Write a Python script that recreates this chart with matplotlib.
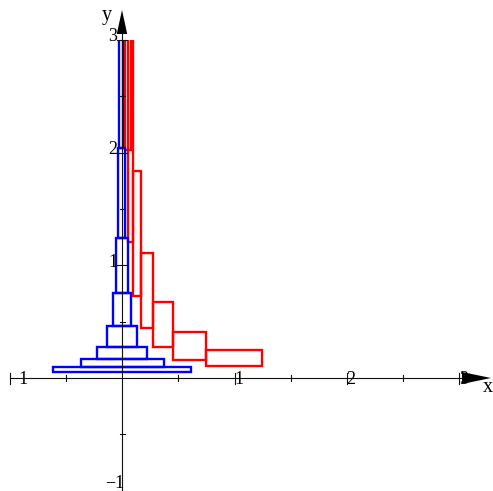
import matplotlib
matplotlib.use("Agg")
import matplotlib.pyplot as plt
from matplotlib.patches import Rectangle, Polygon

# ---- data ----
blue_left = [-0.61, -0.367, -0.225, -0.136, -0.077, -0.055, -0.038, -0.025]
blue_right = [0.613, 0.373, 0.225, 0.136, 0.08, 0.056, 0.027, 0.005]
blue_bottom = [0.056, 0.10, 0.165, 0.275, 0.46, 0.757, 1.24, 2.04]
blue_top = [0.10, 0.165, 0.275, 0.46, 0.757, 1.24, 2.04, 3.36]

red_left = [0.75, 0.455, 0.278, 0.167, 0.097, 0.056, 0.025]
red_right = [1.244, 0.75, 0.455, 0.278, 0.167, 0.097, 0.08]
red_bottom = [0.106, 0.162, 0.272, 0.446, 0.728, 1.21, 2.02]
red_top = [0.248, 0.41, 0.677, 1.11, 1.84, 3.05, 5.0]

x_ticks = [-1, -0.5, 0.5, 1, 1.5, 2, 2.5, 3]
y_ticks = [-1, -0.5, 0.5, 1, 1.5, 2, 2.5, 3]
x_labels = {-1: "\u22121", 1: "1", 2: "2", 3: "3"}
y_labels = {-1: "\u22121", 1: "1", 2: "2", 3: "3"}

view_lo, view_hi = -1, 3

W, H = 493, 491
fig = plt.figure(figsize=(W / 100, H / 100), dpi=100)
ax = fig.add_axes([0, 0, 1, 1])
# pixel mapping: x=0 at px 122, 112.5 px/unit; y=0 at px 378 (from top), 112.7 px/unit
sx, sy = 112.5, 112.7
ax.set_xlim(-122 / sx, (W - 122) / sx)
ax.set_ylim(-(H - 378) / sy, 378 / sy)
ax.set_axis_off()

def px2dx(p):
    return p / sx

def px2dy(p):
    return p / sy

font = dict(family=["Liberation Serif", "DejaVu Serif"], size=13)
axcol = "#111111"

# clip region (view)
clip = Rectangle((-2, -2), 6, view_hi + 2, transform=ax.transData, visible=False)
ax.add_patch(clip)

for l, r, b, t in zip(red_left, red_right, red_bottom, red_top):
    p = Rectangle((l, b), r - l, t - b, fill=False, edgecolor="#ff0000", linewidth=1.7)
    ax.add_patch(p)
    p.set_clip_path(clip)

for l, r, b, t in zip(blue_left, blue_right, blue_bottom, blue_top):
    p = Rectangle((l, b), r - l, t - b, fill=False, edgecolor="#0000ff", linewidth=1.7)
    ax.add_patch(p)
    p.set_clip_path(clip)

# axes lines with arrows
x_tip = (491 - 122) / sx
x_head = px2dx(29)
ax.plot([view_lo, x_tip - x_head], [0, 0], color=axcol, lw=0.8)
ax.add_patch(Polygon([[x_tip, 0], [x_tip - x_head, px2dy(6)], [x_tip - x_head, -px2dy(6)]],
                     closed=True, color="black", lw=0, zorder=1))
y_tip = (378 - 10) / sy
y_head = px2dy(24)
ax.plot([0, 0], [view_lo, y_tip - y_head], color=axcol, lw=0.8)
ax.add_patch(Polygon([[0, y_tip], [px2dx(5.2), y_tip - y_head], [-px2dx(5.2), y_tip - y_head]],
                     closed=True, color="black", lw=0, zorder=1))

# ticks
for t in x_ticks:
    h = 5.5 if float(t).is_integer() else 3.0
    ax.plot([t, t], [-px2dy(h), px2dy(h)], color=axcol, lw=0.8)
for t in y_ticks:
    w = 5.0 if float(t).is_integer() else 2.5
    ax.plot([-px2dx(w), px2dx(w)], [t, t], color=axcol, lw=0.8)

# tick labels
for t, s in x_labels.items():
    ax.annotate(s, (t, 0), xytext=(-0.5 * 0.72, -2 * 0.72), textcoords="offset points",
                ha="left", va="center", color="black", zorder=5, **font)
for t, s in y_labels.items():
    if t == min(y_labels):
        ax.annotate(s, (0, t), xytext=(2.5 * 0.72, 7 * 0.72), textcoords="offset points",
                    ha="right", va="center", color="black", zorder=5, **font)
    else:
        ax.annotate(s, (0, t), xytext=(-4.5 * 0.72, 3 * 0.72), textcoords="offset points",
                    ha="right", va="center", color="black", zorder=5, **font)

# axis names
ax.text((487.5 - 122) / sx, (378 - 387) / sy, "x", ha="center", va="center",
        family=["Liberation Serif", "DejaVu Serif"], size=14.5)
ax.text((106.7 - 122) / sx, (378 - 15) / sy, "y", ha="center", va="center",
        family=["Liberation Serif", "DejaVu Serif"], size=14.5)

fig.savefig("out.png", dpi=100)
